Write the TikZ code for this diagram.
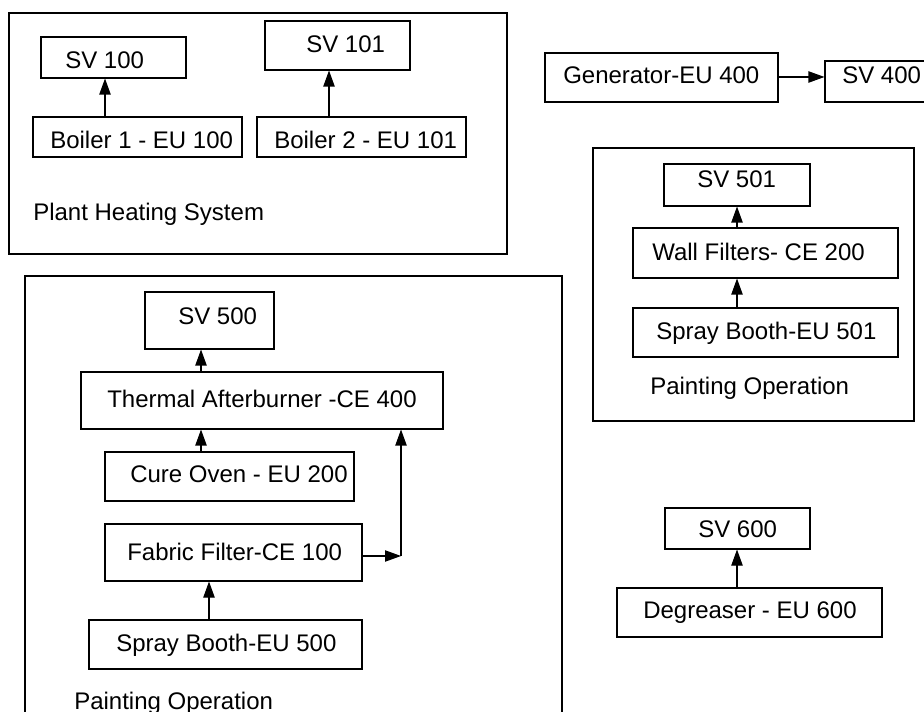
\documentclass[tikz,border=0pt]{standalone}
\usepackage{fontspec}
\setmainfont{Liberation Sans}
\usetikzlibrary{fit,arrows.meta}
\begin{document}
\begin{tikzpicture}[x=0.75pt,y=-0.75pt,
  box/.style={draw=black,line width=0.8pt,rectangle,inner sep=0pt},
  txt/.style={inner sep=0pt,anchor=base west,font=\fontsize{18}{21}\selectfont},
  arr/.style={draw=black,line width=0.8pt,-{Triangle[length=12pt,width=8.5pt]}}]
\useasboundingbox (0,0) rectangle (924,712);
% group frames
\node[box,fit={(9,13) (507,254)}] (plant) {};
\node[box,fit={(593,148) (914,421)}] (paintR) {};
\node[box,fit={(25,276) (562,760)}] (paintL) {};
% plant heating
\node[box,fit={(41,37) (186,78)}] (sv100) {};
\node[box,fit={(33,117) (242,157)}] (b1) {};
\node[box,fit={(265,21) (410,70)}] (sv101) {};
\node[box,fit={(257,117) (466,157)}] (b2) {};
\node[txt] (tsv100) at (65,69) {SV 100};
\node[txt] (tsv101) at (306,53) {SV 101};
\node[txt] (tb1) at (50,149) {Boiler 1 - EU 100};
\node[txt] (tb2) at (274,149) {Boiler 2 - EU 101};
\node[txt] (tplant) at (33,221) {Plant Heating System};
\coordinate (xa) at (105,0);
\coordinate (xb) at (329,0);
\draw[arr] (b1.north -| xa) -- (sv100.south -| xa);
\draw[arr] (b2.north -| xb) -- (sv101.south -| xb);
% generator
\node[box,fit={(545,53) (778,102)}] (gen) {};
\node[box,fit={(825,61) (960,102)}] (sv400) {};
\node[txt] (tgen) at (563,84) {Generator-EU 400};
\node[txt] (tsv400) at (842,84) {SV 400};
\coordinate (ya) at (0,77);
\draw[arr] (gen.east |- ya) -- (sv400.west |- ya);
% right painting operation
\node[box,fit={(664,164) (810,206)}] (sv501) {};
\node[box,fit={(633,228) (898,278)}] (wall) {};
\node[box,fit={(633,308) (898,357)}] (sp501) {};
\node[txt] (tsv501) at (697,188) {SV 501};
\node[txt] (twall) at (652,261) {Wall Filters- CE 200};
\node[txt] (tsp501) at (656,340) {Spray Booth-EU 501};
\node[txt] (tpaintR) at (650,395) {Painting Operation};
\coordinate (xc) at (737,0);
\draw[arr] (wall.north -| xc) -- (sv501.south -| xc);
\draw[arr] (sp501.north -| xc) -- (wall.south -| xc);
% left painting operation
\node[box,fit={(145,292) (274,349)}] (sv500) {};
\node[box,fit={(81,372) (443,429)}] (therm) {};
\node[box,fit={(105,452) (354,501)}] (cure) {};
\node[box,fit={(105,524) (362,581)}] (fab) {};
\node[box,fit={(89,620) (362,669)}] (sp500) {};
\node[txt] (tsv500) at (178,325) {SV 500};
\node[txt] (ttherm) at (107,408) {Thermal Afterburner -CE 400};
\node[txt] (tcure) at (130,483) {Cure Oven - EU 200};
\node[txt] (tfab) at (127,560) {Fabric Filter-CE 100};
\node[txt] (tsp500) at (116,651) {Spray Booth-EU 500};
\node[txt] (tpaintL) at (74,709) {Painting Operation};
\coordinate (xd) at (201,0);
\coordinate (xe) at (209,0);
\coordinate (byp) at (401,556);
\draw[arr] (therm.north -| xd) -- (sv500.south -| xd);
\draw[arr] (cure.north -| xd) -- (therm.south -| xd);
\draw[arr] (sp500.north -| xe) -- (fab.south -| xe);
\draw[arr] (fab.east |- byp) -- (byp);
\draw[arr] (byp) -- (therm.south -| byp);
% degreaser
\node[box,fit={(665,508) (810,549)}] (sv600) {};
\node[box,fit={(617,588) (882,637)}] (degr) {};
\node[txt] (tsv600) at (698,537) {SV 600};
\node[txt] (tdegr) at (643,618) {Degreaser - EU 600};
\draw[arr] (degr.north -| xc) -- (sv600.south -| xc);
\end{tikzpicture}
\end{document}
